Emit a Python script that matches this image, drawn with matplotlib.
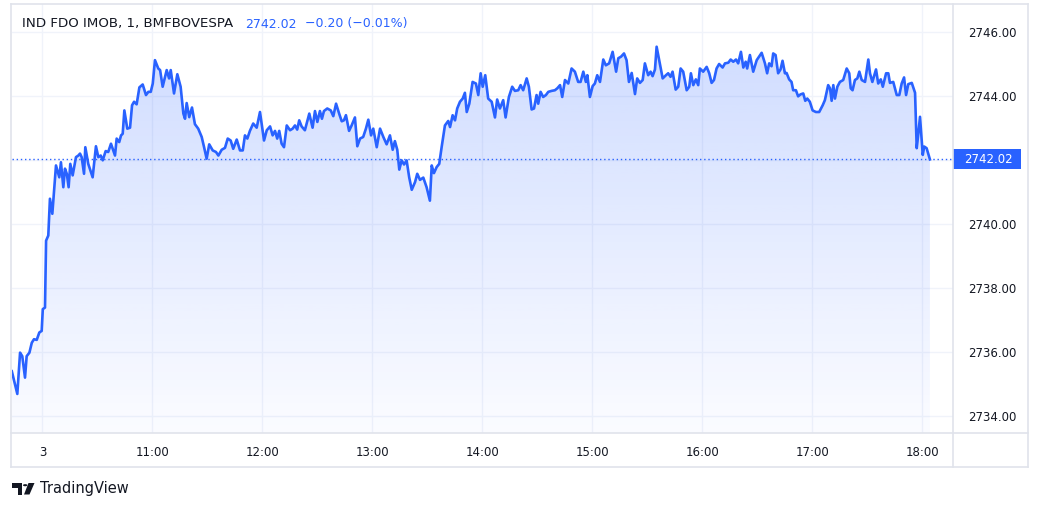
import numpy as np
import matplotlib
matplotlib.use("Agg")
import matplotlib.pyplot as plt
import matplotlib.transforms as mtransforms
from matplotlib.patches import Rectangle, Circle, Polygon
from matplotlib.lines import Line2D

plt.rcParams['font.family'] = ['DejaVu Sans']

# minutes after 10:00 (day 3), 1-minute index fund intraday
minutes = [
    -16.7, -13.7, -12.2, -11.0, -9.5, -8.6, -7.1, -5.8, -4.6, -3.1, -1.7, -0.4,
    0.2, 1.4, 2.0, 3.2, 4.1, 5.4, 7.4, 9.2, 10.1, 11.4, 12.3, 13.3, 14.3, 15.2,
    16.5, 18.3, 19.6, 20.5, 21.4, 22.7, 23.4, 25.0, 27.4, 29.2, 30.5, 31.8, 32.9,
    34.5, 35.9, 37.4, 39.6, 40.5, 41.9, 42.9, 43.8, 44.7, 46.3, 47.8, 48.9, 50.0,
    51.4, 52.9, 54.7, 56.5, 57.8, 59.1, 60.2, 61.4, 63.2, 64.2, 65.6, 67.8, 69.1,
    70.0, 71.8, 73.6, 75.4, 76.9, 77.8, 78.7, 80.1, 81.6, 83.2, 85.0, 86.9, 88.2,
    89.6, 91.0, 92.9, 94.7, 96.0, 97.8, 99.6, 101.1, 102.7, 104.1, 106.0, 107.8,
    109.3, 110.5, 111.8, 113.2, 115.0, 116.9, 118.7, 120.9, 122.4, 124.2, 125.6,
    126.9, 128.1, 129.2, 130.5, 131.8, 133.3, 135.1, 136.5, 137.8, 139.0, 140.1,
    141.4, 143.2, 145.6, 147.4, 148.7, 150.0, 151.4, 152.5, 153.6, 155.4, 157.3,
    158.7, 160.2, 162.0, 163.3, 164.5, 165.6, 167.3, 168.7, 170.5, 171.8, 173.3,
    175.0, 176.5, 177.8, 179.3, 180.5, 182.4, 184.2, 186.0, 187.8, 189.6, 191.1,
    192.3, 193.6, 194.7, 196.0, 197.3, 198.7, 200.1, 201.5, 203.3, 204.5, 206.0,
    207.8, 209.6, 211.4, 212.4, 213.6, 215.1, 216.5, 217.8, 219.6, 221.4, 222.4,
    223.8, 225.1, 226.3, 227.8, 229.3, 230.5, 231.5, 232.9, 234.7, 236.5, 237.8,
    239.1, 240.2, 241.6, 243.2, 245.1, 246.9, 248.1, 249.6, 251.4, 252.7, 254.5,
    256.3, 257.8, 259.6, 260.9, 262.3, 264.2, 265.4, 266.9, 268.2, 269.6, 270.5,
    271.8, 273.2, 274.7, 276.0, 277.8, 279.6, 280.9, 282.4, 283.6, 285.1, 286.9,
    288.7, 290.5, 292.3, 293.6, 295.1, 296.5, 297.3, 298.7, 300.2, 301.4, 302.7,
    304.2, 306.0, 307.4, 309.2, 311.1, 313.0, 314.2, 315.7, 317.3, 318.7, 320.0,
    321.5, 323.3, 324.5, 326.0, 327.5, 328.7, 330.5, 331.8, 332.9, 334.2, 335.1,
    336.5, 338.4, 340.2, 341.4, 342.7, 343.8, 345.5, 346.9, 348.2, 349.6, 351.5,
    352.9, 353.8, 355.1, 356.5, 357.8, 358.7, 360.5, 362.4, 363.8, 365.1, 366.4,
    367.8, 369.2, 371.1, 372.4, 374.2, 375.5, 376.9, 378.4, 379.6, 381.1, 382.4,
    383.7, 384.5, 386.0, 387.8, 389.7, 392.4, 394.2, 395.4, 396.5, 397.8, 398.7,
    400.0, 401.4, 402.7, 403.8, 405.1, 406.0, 407.4, 408.7, 409.6, 411.1, 412.3,
    413.6, 415.1, 416.2, 417.3, 418.7, 420.2, 422.0, 423.8, 425.7, 426.9, 428.7,
    429.7, 430.6, 431.5, 432.4, 433.7, 435.1, 436.9, 438.8, 440.2, 441.0, 442.0,
    443.3, 444.6, 445.7, 447.0, 448.8, 450.6, 451.5, 452.8, 454.8, 456.0, 457.4,
    458.5, 460.3, 461.5, 462.4, 464.2, 466.1, 467.5, 468.8, 470.1, 471.2, 472.4,
    474.3, 476.1, 477.0, 477.9, 478.8, 480.3, 481.1, 482.4, 484.2,
]
prices = [
    2735.40, 2734.69, 2735.98, 2735.87, 2735.20, 2735.87, 2735.98, 2736.29, 2736.40,
    2736.38, 2736.61, 2736.66, 2737.34, 2737.39, 2739.48, 2739.64, 2740.79, 2740.32,
    2741.83, 2741.46, 2741.93, 2741.15, 2741.73, 2741.57, 2741.15, 2741.88, 2741.52,
    2742.09, 2742.14, 2742.20, 2742.09, 2741.57, 2742.40, 2741.88, 2741.46, 2742.43,
    2742.09, 2742.14, 2741.99, 2742.28, 2742.25, 2742.51, 2742.14, 2742.67, 2742.56,
    2742.77, 2742.82, 2743.55, 2742.98, 2743.01, 2743.71, 2743.82, 2743.74, 2744.27,
    2744.36, 2744.03, 2744.13, 2744.13, 2744.39, 2745.12, 2744.86, 2744.81, 2744.29,
    2744.81, 2744.55, 2744.81, 2744.08, 2744.68, 2744.29, 2743.45, 2743.29, 2743.78,
    2743.34, 2743.64, 2743.12, 2742.98, 2742.72, 2742.40, 2742.04, 2742.49, 2742.30,
    2742.25, 2742.14, 2742.32, 2742.38, 2742.67, 2742.61, 2742.35, 2742.64, 2742.30,
    2742.30, 2742.77, 2742.67, 2742.91, 2743.14, 2743.01, 2743.50, 2742.61, 2742.93,
    2743.05, 2742.77, 2742.91, 2742.67, 2742.91, 2742.51, 2742.40, 2743.08, 2742.93,
    2742.98, 2743.08, 2742.95, 2743.24, 2743.05, 2742.93, 2743.45, 2743.01, 2743.53,
    2743.19, 2743.53, 2743.29, 2743.53, 2743.61, 2743.55, 2743.37, 2743.76, 2743.43,
    2743.21, 2743.24, 2743.40, 2742.91, 2743.08, 2743.33, 2742.43, 2742.67, 2742.72,
    2742.98, 2743.26, 2742.77, 2742.98, 2742.40, 2742.98, 2742.72, 2742.49, 2742.77,
    2742.32, 2742.59, 2742.32, 2741.70, 2741.99, 2741.86, 2741.99, 2741.46, 2741.07,
    2741.31, 2741.57, 2741.38, 2741.45, 2741.15, 2740.73, 2741.83, 2741.59, 2741.78,
    2741.88, 2742.40, 2743.08, 2743.22, 2743.03, 2743.40, 2743.24, 2743.61, 2743.82,
    2743.92, 2744.10, 2743.50, 2743.76, 2744.44, 2744.39, 2744.03, 2744.71, 2744.29,
    2744.65, 2743.92, 2743.82, 2743.33, 2743.89, 2743.61, 2743.87, 2743.33, 2743.97,
    2744.29, 2744.16, 2744.18, 2744.34, 2744.18, 2744.55, 2744.29, 2743.58, 2743.61,
    2744.03, 2743.76, 2744.13, 2743.97, 2744.03, 2744.13, 2744.16, 2744.18, 2744.24,
    2744.34, 2743.97, 2744.50, 2744.39, 2744.86, 2744.76, 2744.44, 2744.44, 2744.76,
    2744.44, 2744.65, 2743.97, 2744.31, 2744.39, 2744.65, 2744.44, 2745.14, 2744.96,
    2745.02, 2745.38, 2744.76, 2745.18, 2745.23, 2745.33, 2745.12, 2744.44, 2744.72,
    2744.06, 2744.55, 2744.41, 2744.50, 2745.02, 2744.65, 2744.76, 2744.62, 2744.83,
    2745.54, 2745.12, 2744.55, 2744.65, 2744.71, 2744.60, 2744.76, 2744.20, 2744.29,
    2744.86, 2744.76, 2744.18, 2744.29, 2744.71, 2744.34, 2744.52, 2744.34, 2744.86,
    2744.76, 2744.91, 2744.71, 2744.41, 2744.50, 2744.86, 2745.00, 2744.89, 2745.02,
    2745.04, 2745.14, 2745.07, 2745.14, 2745.02, 2745.38, 2744.89, 2745.07, 2744.86,
    2745.28, 2744.76, 2745.12, 2745.35, 2745.02, 2744.71, 2745.02, 2744.93, 2745.33,
    2745.28, 2744.71, 2744.83, 2745.10, 2744.71, 2744.72, 2744.52, 2744.44, 2744.18,
    2744.18, 2743.99, 2744.05, 2744.08, 2743.85, 2743.92, 2743.82, 2743.55, 2743.50,
    2743.50, 2743.71, 2743.87, 2744.34, 2744.24, 2743.85, 2744.34, 2743.92, 2744.29,
    2744.44, 2744.50, 2744.86, 2744.71, 2744.24, 2744.18, 2744.50, 2744.55, 2744.76,
    2744.50, 2744.44, 2745.14, 2744.71, 2744.44, 2744.83, 2744.39, 2744.52, 2744.29,
    2744.71, 2744.71, 2744.41, 2744.44, 2744.03, 2744.03, 2744.39, 2744.58, 2744.03,
    2744.37, 2744.41, 2744.10, 2742.37, 2742.83, 2743.35, 2742.16, 2742.42, 2742.37,
    2742.02,
]

tick_minutes = [0, 60, 120, 180, 240, 300, 360, 420, 480]
tick_labels = ['3', '11:00', '12:00', '13:00', '14:00', '15:00', '16:00', '17:00', '18:00']
price_ticks = [2734, 2736, 2738, 2740, 2742, 2744, 2746]

symbol = 'IND FDO IMOB, 1, BMFBOVESPA'
change = -0.20
change_pct = -0.01

blue = '#2962ff'
frame_c = '#e0e3eb'
grid_c = '#f0f3fa'
text_c = '#131722'

W, H = 1047, 507
fig = plt.figure(figsize=(W / 100, H / 100), dpi=100)
fig.patch.set_facecolor('white')

L, R, T, B = 12, 953, 4, 433
ax = fig.add_axes([L / W, 1 - B / H, (R - L) / W, (B - T) / H])
ax.set_facecolor('white')

t = np.array(minutes)
p = np.array(prices)
last = p[-1]
ymin, ymax = 2733.47, 2746.875

# gradient area under the line
grad = np.zeros((256, 1, 4))
grad[:, 0, :3] = matplotlib.colors.to_rgb(blue)
grad[:, 0, 3] = np.linspace(0.24, 0.02, 256)
poly = ax.fill_between(t, p, ymin, facecolor='none', edgecolor='none')
img = ax.imshow(grad, extent=[t[0], t[-1], ymin, ymax], aspect='auto',
                origin='upper', zorder=1)
img.set_clip_path(poly.get_paths()[0], ax.transData)
ax.set_xlim(-16.6, 496.8)
ax.set_ylim(ymin, ymax)

ax.plot(t, p, color=blue, lw=1.9, zorder=3, solid_joinstyle='round')
ax.axhline(last, color=blue, lw=1, ls=(0, (1, 2)), zorder=2)

ax.set_xticks(tick_minutes)
ax.set_xticklabels(tick_labels)
ax.set_yticks(price_ticks)
# the label nearest the last price is covered by the price tag
ax.set_yticklabels(['' if abs(v - last) < 0.3 else '%.2f' % v for v in price_ticks])
ax.yaxis.tick_right()
ax.tick_params(axis='both', length=0, labelsize=8.5, colors=text_c)
ax.tick_params(axis='x', pad=9)
ax.tick_params(axis='y', pad=11)
ax.grid(True, color=grid_c, lw=1)
ax.set_axisbelow(True)
for s in ax.spines.values():
    s.set_visible(False)

# last price tag on the price scale
trans = mtransforms.blended_transform_factory(ax.transAxes, ax.transData)
ax.add_patch(Rectangle((1.0, last - 10 / 32), 68 / (R - L), 20 / 32, transform=trans,
                       facecolor=blue, edgecolor='none', clip_on=False, zorder=5))
ax.text(1.0 + 11 / (R - L), last, '%.2f' % last, transform=trans, color='white',
        fontsize=8.5, va='center', ha='left', zorder=6)

# pane frame
def fline(x0, y0, x1, y1):
    fig.add_artist(Line2D([x0 / W, x1 / W], [1 - y0 / H, 1 - y1 / H],
                          color=frame_c, lw=1.2))

fline(11, 4, 1028, 4)
fline(11, 467, 1028, 467)
fline(11, 4, 11, 467)
fline(1028, 4, 1028, 467)
fline(953, 4, 953, 467)
fline(11, 433, 1028, 433)

# legend line
fig.text(22 / W, 1 - 24 / H, symbol, color=text_c, fontsize=9.6, va='center', ha='left')
fig.text(245 / W, 1 - 24 / H, '%.2f' % last, color=blue, fontsize=9, va='center', ha='left')
fig.text(305 / W, 1 - 24 / H, '\u2212%.2f (\u2212%.2f%%)' % (abs(change), abs(change_pct)),
         color=blue, fontsize=9, va='center', ha='left')

# TradingView mark
def fp(x, y):
    return (x / W, 1 - y / H)

fig.add_artist(Polygon([fp(12, 483), fp(22, 483), fp(22, 494.5), fp(17.5, 494.5),
                        fp(17.5, 487.5), fp(12, 487.5)], closed=True,
                       facecolor=text_c, edgecolor='none', transform=fig.transFigure))
fig.add_artist(Circle(fp(25.2, 485.2), 2.2 / W, facecolor=text_c, edgecolor='none',
                      transform=fig.transFigure))
fig.add_artist(Polygon([fp(28.5, 483), fp(34.5, 483), fp(29.5, 494.5), fp(24, 494.5)],
                       closed=True, facecolor=text_c, edgecolor='none',
                       transform=fig.transFigure))
fig.text(40 / W, 1 - 489 / H, 'TradingView', color=text_c, fontsize=10.5,
         va='center', ha='left')

fig.savefig('out.png', dpi=100)
